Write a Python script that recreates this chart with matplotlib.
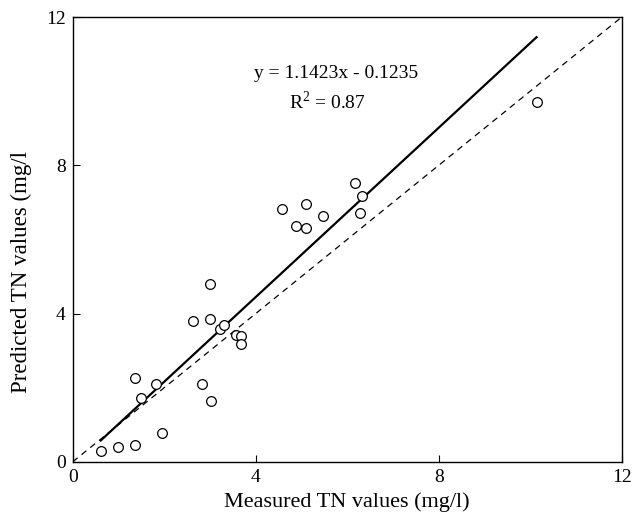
import numpy as np
import matplotlib
matplotlib.use('Agg')
import matplotlib.pyplot as plt

plt.rcParams['font.family'] = ['Liberation Serif', 'DejaVu Serif']
plt.rcParams['mathtext.fontset'] = 'custom'
plt.rcParams['mathtext.rm'] = 'Liberation Serif'

# measured vs predicted TN (mg/l)
measured = [0.61, 0.99, 1.37, 1.96, 1.37, 1.50, 1.83, 2.82, 3.03, 3.01, 2.63, 2.99, 3.22,
            3.30, 3.57, 3.67, 3.68, 4.57, 5.11, 4.87, 5.11, 5.48, 6.18, 6.32, 6.29, 10.14]
predicted = [0.30, 0.39, 0.46, 0.77, 2.25, 1.73, 2.11, 2.09, 1.65, 4.80, 3.81, 3.84, 3.58,
             3.68, 3.41, 3.39, 3.18, 6.82, 6.95, 6.36, 6.32, 6.63, 7.52, 7.16, 6.72, 9.70]

slope = 1.1423
intercept = -0.1235
r2 = 0.87

ticks = [0, 4, 8, 12]

fig = plt.figure(figsize=(6.33, 5.2), dpi=100)
ax = fig.add_axes([0.115, 0.112, 0.867, 0.855])

x = np.array(measured)
fit_x = np.array([x.min(), x.max()])
ax.plot(fit_x, slope * fit_x + intercept, color='black', lw=1.6, zorder=2)
ax.plot([0, 12], [0, 12], color='black', lw=0.9, ls=(0, (5, 4)), zorder=2)
ax.plot(measured, predicted, 'o', mfc='white', mec='black', mew=0.9, ms=7, zorder=3)

ax.text(5.76, 10.47, 'y = 1.1423x - 0.1235', ha='center', va='center', fontsize=14)
ax.text(5.56, 9.72, r'R$^2$ = 0.87', ha='center', va='center', fontsize=14)

ax.set_xlim(0, 12)
ax.set_ylim(0, 12)
ax.set_xticks(ticks)
ax.set_yticks(ticks)
ax.tick_params(direction='in', length=5, width=0.8, labelsize=14, pad=5)
for s in ax.spines.values():
    s.set_linewidth(1.0)

ax.set_xlabel('Measured TN values (mg/l)', fontsize=16, labelpad=5)
ax.set_ylabel('Predicted TN values (mg/l', fontsize=16.5)
ax.yaxis.set_label_coords(-0.074, 0.427)

fig.savefig('out.png', dpi=100)
